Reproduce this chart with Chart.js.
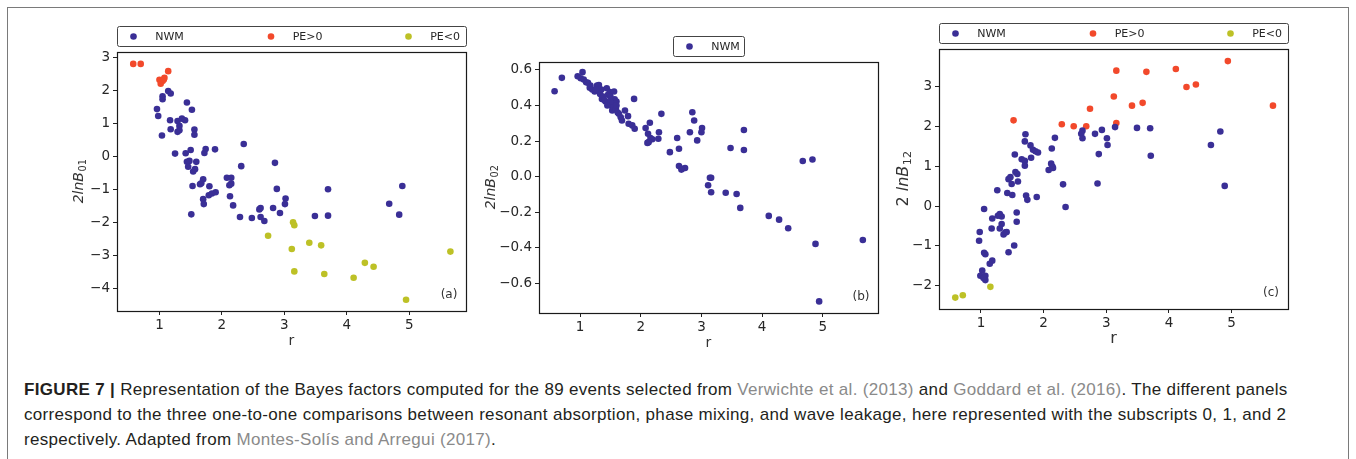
<!DOCTYPE html>
<html>
<head>
<meta charset="utf-8">
<script src="https://cdn.jsdelivr.net/npm/chart.js@4.4.0/dist/chart.umd.min.js"></script>
<style>
  body { margin: 0; width: 1356px; height: 459px; background: #fff; position: relative; overflow: hidden; }
  .frame { position: absolute; left: 7px; top: 7px; width: 1342px; height: 470px; border: 1px solid #7a7a7a; box-sizing: border-box; }
  .panel { position: absolute; }
  #caption { position: absolute; left: 24px; top: 377px; font-family: 'Liberation Sans', Arial, sans-serif;
             font-size: 17px; letter-spacing: 0.32px; line-height: 25px; color: #231f20; white-space: nowrap; }
  #caption .ref { color: #8a8a8a; }
</style>
</head>
<body>
<div class="frame"></div>
<canvas id="chartA" class="panel" width="440" height="344" style="left:40px;top:16px"></canvas>
<canvas id="chartB" class="panel" width="430" height="334" style="left:462px;top:26px"></canvas>
<canvas id="chartC" class="panel" width="440" height="346" style="left:862px;top:14px"></canvas>
<div id="caption">
  <b>FIGURE 7 |</b> Representation of the Bayes factors computed for the 89 events selected from <span class="ref">Verwichte et al. (2013)</span> and <span class="ref">Goddard et al. (2016)</span>. The different panels<br>
  correspond to the three one-to-one comparisons between resonant absorption, phase mixing, and wave leakage, here represented with the subscripts 0, 1, and 2<br>
  respectively. Adapted from <span class="ref">Montes-Solís and Arregui (2017)</span>.
</div>
<script>
// tick values
const xTicks = [1, 2, 3, 4, 5];
const yTicksA = [-4, -3, -2, -1, 0, 1, 2, 3];
const yTicksB = [-0.6, -0.4, -0.2, 0, 0.2, 0.4, 0.6];
const yTicksC = [-2, -1, 0, 1, 2, 3];

const seriesNames = ['NWM', 'PE>0', 'PE<0'];
const seriesColors = ['#3a2f96', '#f2492b', '#bdc126'];

// panel (a): [r, 2lnB01]
const nwmA = [[1.14,1.98],[1.18,1.90],[1.05,1.82],[1.05,1.73],[1.44,1.63],[1.52,1.41],[0.96,1.43],[0.98,1.22],[1.17,1.09],[1.29,1.07],
  [1.36,1.14],[1.41,1.09],[1.32,0.92],[1.18,0.82],[1.29,0.74],[1.32,0.79],[1.56,0.81],[1.56,0.65],[1.04,0.63],[1.25,0.08],
  [1.42,0.09],[1.50,0.19],[1.72,0.10],[1.74,0.22],[1.89,0.21],[2.35,0.37],[2.31,-0.30],[2.85,-0.20],[1.44,-0.17],[1.48,-0.14],
  [1.59,-0.17],[1.46,-0.32],[1.54,-0.46],[1.57,-0.39],[1.53,-0.90],[1.70,-0.70],[1.67,-0.82],[1.65,-0.85],[1.80,-0.91],[1.70,-1.30],
  [1.71,-1.45],[1.51,-1.76],[1.79,-1.18],[1.84,-1.13],[1.90,-1.09],[2.08,-0.65],[2.15,-0.65],[2.12,-0.88],[2.15,-0.83],[2.13,-1.21],
  [2.18,-1.49],[2.29,-1.84],[2.48,-1.87],[2.60,-1.61],[2.62,-1.57],[2.62,-1.84],[2.68,-1.96],[2.82,-1.57],[2.88,-0.99],[2.93,-1.72],
  [3.02,-1.28],[3.01,-1.45],[3.49,-1.81],[3.70,-1.00],[3.70,-1.80],[4.68,-1.44],[4.84,-1.77],[4.89,-0.90]];
const pePosA = [[0.58,2.80],[0.70,2.80],[1.00,2.32],[1.02,2.20],[1.05,2.28],[1.08,2.38],[1.07,2.33],[1.14,2.58]];
const peNegA = [[2.74,-2.41],[3.12,-2.81],[3.14,-2.00],[3.16,-2.09],[3.16,-3.49],[3.40,-2.62],[3.59,-2.70],[3.64,-3.57],
  [4.11,-3.68],[4.29,-3.23],[4.43,-3.35],[4.95,-4.35],[5.66,-2.89]];

// panel (b): [r, 2lnB02]
const nwmB = [[0.58,0.48],[0.70,0.555],[0.96,0.564],[1.04,0.587],[1.01,0.553],[1.06,0.546],[1.13,0.527],[1.17,0.512],[1.16,0.50],[1.24,0.478],
  [1.28,0.512],[1.31,0.515],[1.33,0.465],[1.36,0.437],[1.44,0.497],[1.46,0.46],[1.49,0.475],[1.56,0.478],[1.42,0.422],[1.47,0.409],
  [1.52,0.40],[1.54,0.381],[1.57,0.434],[1.60,0.422],[1.58,0.409],[1.53,0.372],[1.89,0.437],[1.64,0.353],[1.67,0.334],[1.69,0.316],
  [1.74,0.372],[1.79,0.34],[1.80,0.297],[1.86,0.288],[1.90,0.269],[2.08,0.273],[2.15,0.303],[2.12,0.241],[2.16,0.217],[2.19,0.21],
  [2.13,0.194],[2.11,0.19],[2.30,0.25],[2.29,0.213],[2.34,0.353],[2.48,0.138],[2.60,0.217],[2.63,0.157],[2.63,0.06],[2.68,0.045],
  [2.73,0.049],[2.81,0.25],[2.85,0.362],[2.88,0.316],[3.01,0.273],[3.00,0.25],[2.93,0.204],[3.48,0.161],[3.14,-0.006],[3.16,-0.006],
  [3.11,-0.048],[3.16,-0.087],[3.40,-0.09],[3.58,-0.097],[3.64,-0.175],[4.11,-0.22],[4.28,-0.241],[4.43,-0.289],[4.88,-0.377],[5.66,-0.355],
  [4.94,-0.70],[3.70,0.262],[3.70,0.15],[4.67,0.088],[4.83,0.097],[1.10,0.53],[1.20,0.49],[1.38,0.45],[1.40,0.43],[1.50,0.42],
  [1.55,0.39],[1.59,0.38],[1.62,0.36],[1.50,0.45],[1.35,0.49],[1.26,0.49],[1.45,0.40],[1.60,0.40],[2.67,0.04]];

// panel (c): [r, 2lnB12]
const nwmC = [[1.71,1.81],[1.70,1.63],[1.54,1.30],[1.79,1.53],[1.83,1.42],[1.87,1.38],[1.91,1.35],[1.80,1.22],[1.65,1.18],[1.70,1.14],
  [1.70,1.02],[2.18,1.72],[2.13,1.45],[2.12,1.07],[2.14,1.00],[2.08,0.91],[2.15,0.96],[2.62,1.90],[2.60,1.82],[2.62,1.71],
  [2.82,1.82],[2.93,1.92],[3.01,1.71],[3.02,1.54],[2.88,1.31],[3.14,1.99],[3.49,1.97],[3.70,1.96],[3.71,1.27],[4.67,1.54],
  [4.82,1.88],[4.89,0.51],[2.31,0.55],[2.86,0.57],[2.35,-0.02],[1.55,0.86],[1.58,0.81],[1.44,0.68],[1.47,0.73],[1.59,0.62],
  [1.49,0.56],[1.26,0.40],[1.42,0.33],[1.50,0.28],[1.72,0.27],[1.74,0.16],[1.89,0.23],[1.05,-0.07],[1.57,-0.16],[1.18,-0.31],
  [1.30,-0.20],[1.33,-0.26],[1.27,-0.24],[1.57,-0.39],[1.33,-0.45],[1.30,-0.56],[1.17,-0.56],[1.39,-0.66],[1.36,-0.71],[1.41,-0.65],
  [0.98,-0.65],[0.97,-0.87],[1.53,-0.99],[1.44,-1.16],[1.05,-1.17],[1.07,-1.21],[1.18,-1.37],[1.14,-1.45],[1.02,-1.62],[0.99,-1.75],
  [1.07,-1.75],[1.07,-1.86],[1.04,-1.81]];
const pePosC = [[1.52,2.16],[2.29,2.06],[2.48,2.01],[2.68,2.01],[2.74,2.45],[3.12,2.76],[3.16,3.41],[3.16,2.09],[3.41,2.53],[3.58,2.60],
  [3.64,3.38],[4.11,3.45],[4.28,3.00],[4.43,3.06],[4.94,3.65],[5.66,2.53]];
const peNegC = [[0.59,-2.30],[0.71,-2.24],[1.15,-2.03]];

const tickFont = { family: 'DejaVu Sans', size: 13.5 };
const toPts = arr => arr.map(p => ({ x: p[0], y: p[1] }));

// frame, legend box, axis titles and panel tag
const decor = {
  id: 'decor',
  afterDraw(chart, args, o) {
    const ctx = chart.ctx, a = chart.chartArea;
    ctx.save();
    ctx.strokeStyle = '#1a1a1a';
    ctx.lineWidth = 1.2;
    ctx.strokeRect(Math.round(a.left) + 0.5, Math.round(a.top) + 0.5,
      Math.round(a.right - a.left), Math.round(a.bottom - a.top));

    // legend
    const sets = chart.data.datasets;
    let bx, bw;
    if (sets.length > 1) { bx = a.left; bw = a.right - a.left; }
    else { bw = 71; bx = (a.left + a.right) / 2 - bw / 2; }
    const by = a.top - 26, bh = 20;
    ctx.beginPath();
    ctx.roundRect(bx + 0.5, by + 0.5, bw, bh, 2);
    ctx.strokeStyle = '#444';
    ctx.lineWidth = 1;
    ctx.stroke();
    ctx.font = '11px "DejaVu Sans"';
    ctx.textBaseline = 'middle';
    ctx.textAlign = 'left';
    const step = sets.length > 1 ? (bw - 74) / (sets.length - 1) : 0;
    sets.forEach((ds, i) => {
      const mx = bx + 16.5 + i * step;
      ctx.beginPath();
      ctx.arc(mx, by + bh / 2 + 0.5, 3.3, 0, Math.PI * 2);
      ctx.fillStyle = ds.backgroundColor;
      ctx.fill();
      ctx.fillStyle = '#262626';
      ctx.fillText(ds.label, mx + 21.7, by + bh / 2 + 1);
    });

    // panel tag
    ctx.font = '12px "DejaVu Sans"';
    ctx.textAlign = 'center';
    ctx.fillStyle = '#333';
    ctx.fillText(o.tag, a.right - 17, a.bottom - 16);

    // x title
    ctx.font = o.titleSize + 'px "DejaVu Sans"';
    ctx.fillStyle = '#333';
    ctx.fillText('r', (a.left + a.right) / 2, a.bottom + 30);

    // y title with subscript
    const cy = (a.top + a.bottom) / 2;
    ctx.translate(a.left - o.yTitleGap, cy);
    ctx.rotate(-Math.PI / 2);
    const fMain = o.titleSize + 'px "DejaVu Sans"';
    const fIt = 'italic ' + o.titleSize + 'px "DejaVu Sans"';
    const fSub = (o.titleSize * 0.7) + 'px "DejaVu Sans"';
    ctx.font = o.prefixItalic ? fIt : fMain;
    const w1 = ctx.measureText(o.prefix).width;
    ctx.font = fIt;
    const w2 = ctx.measureText('lnB').width;
    ctx.font = fSub;
    const w3 = ctx.measureText(o.sub).width;
    let x0 = -(w1 + w2 + w3) / 2;
    ctx.textAlign = 'left';
    ctx.textBaseline = 'alphabetic';
    const base = o.titleSize * 0.36;
    ctx.font = o.prefixItalic ? fIt : fMain;
    ctx.fillText(o.prefix, x0, base);
    ctx.font = fIt;
    ctx.fillText('lnB', x0 + w1, base);
    ctx.font = fSub;
    ctx.fillText(o.sub, x0 + w1 + w2 + 0.5, base + o.titleSize * 0.22);
    ctx.restore();
  }
};

function makeChart(id, sets, xr, yr, yTicks, dec, dims, deco) {
  const data = {
    datasets: sets.map(s => ({
      label: s.name,
      data: toPts(s.pts),
      backgroundColor: s.color,
      borderWidth: 0,
      pointRadius: 3.3,
      pointHoverRadius: 3.3
    }))
  };
  const axisBase = {
    type: 'linear',
    grid: { display: true, drawOnChartArea: false, drawTicks: true, tickLength: 4, tickColor: '#222', tickWidth: 1 },
    border: { display: false },
    title: { display: false }
  };
  return new Chart(document.getElementById(id), {
    type: 'scatter',
    data: data,
    options: {
      responsive: false,
      animation: false,
      events: [],
      layout: { padding: { left: 0, right: dims.padRight, top: dims.padTop, bottom: 0 } },
      plugins: { legend: { display: false }, tooltip: { enabled: false }, decor: deco },
      scales: {
        x: Object.assign({}, axisBase, {
          min: xr[0], max: xr[1],
          afterBuildTicks: s => { s.ticks = xTicks.map(v => ({ value: v })); },
          afterFit: s => { s.height = dims.xHeight; s.paddingLeft = 0; s.paddingRight = 0; },
          ticks: { font: tickFont, color: '#262626', padding: 2, maxRotation: 0, callback: v => String(v) }
        }),
        y: Object.assign({}, axisBase, {
          min: yr[0], max: yr[1],
          afterBuildTicks: s => { s.ticks = yTicks.map(v => ({ value: v })); },
          afterFit: s => { s.width = 77; s.paddingTop = 0; s.paddingBottom = 0; },
          ticks: { font: tickFont, color: '#262626', padding: 3,
                   callback: v => Number(v).toFixed(dec).replace('-', '\u2212') }
        })
      }
    },
    plugins: [decor]
  });
}

makeChart('chartA',
  [{ name: seriesNames[0], pts: nwmA, color: seriesColors[0] },
   { name: seriesNames[1], pts: pePosA, color: seriesColors[1] },
   { name: seriesNames[2], pts: peNegA, color: seriesColors[2] }],
  [0.32, 5.91], [-4.69, 3.16], yTicksA, 0,
  { padRight: 14, padTop: 36, xHeight: 49 },
  { tag: '(a)', titleSize: 14, yTitleGap: 39, prefix: '2', prefixItalic: true, sub: '01' });

makeChart('chartB',
  [{ name: seriesNames[0], pts: nwmB, color: seriesColors[0] }],
  [0.323, 5.91], [-0.765, 0.644], yTicksB, 1,
  { padRight: 14, padTop: 36, xHeight: 47 },
  { tag: '(b)', titleSize: 14, yTitleGap: 49, prefix: '2', prefixItalic: true, sub: '02' });

makeChart('chartC',
  [{ name: seriesNames[0], pts: nwmC, color: seriesColors[0] },
   { name: seriesNames[1], pts: pePosC, color: seriesColors[1] },
   { name: seriesNames[2], pts: peNegC, color: seriesColors[2] }],
  [0.33, 5.90], [-2.587, 3.955], yTicksC, 0,
  { padRight: 14, padTop: 35, xHeight: 51 },
  { tag: '(c)', titleSize: 16, yTitleGap: 37, prefix: '2 ', prefixItalic: false, sub: '12' });
</script>
</body>
</html>
